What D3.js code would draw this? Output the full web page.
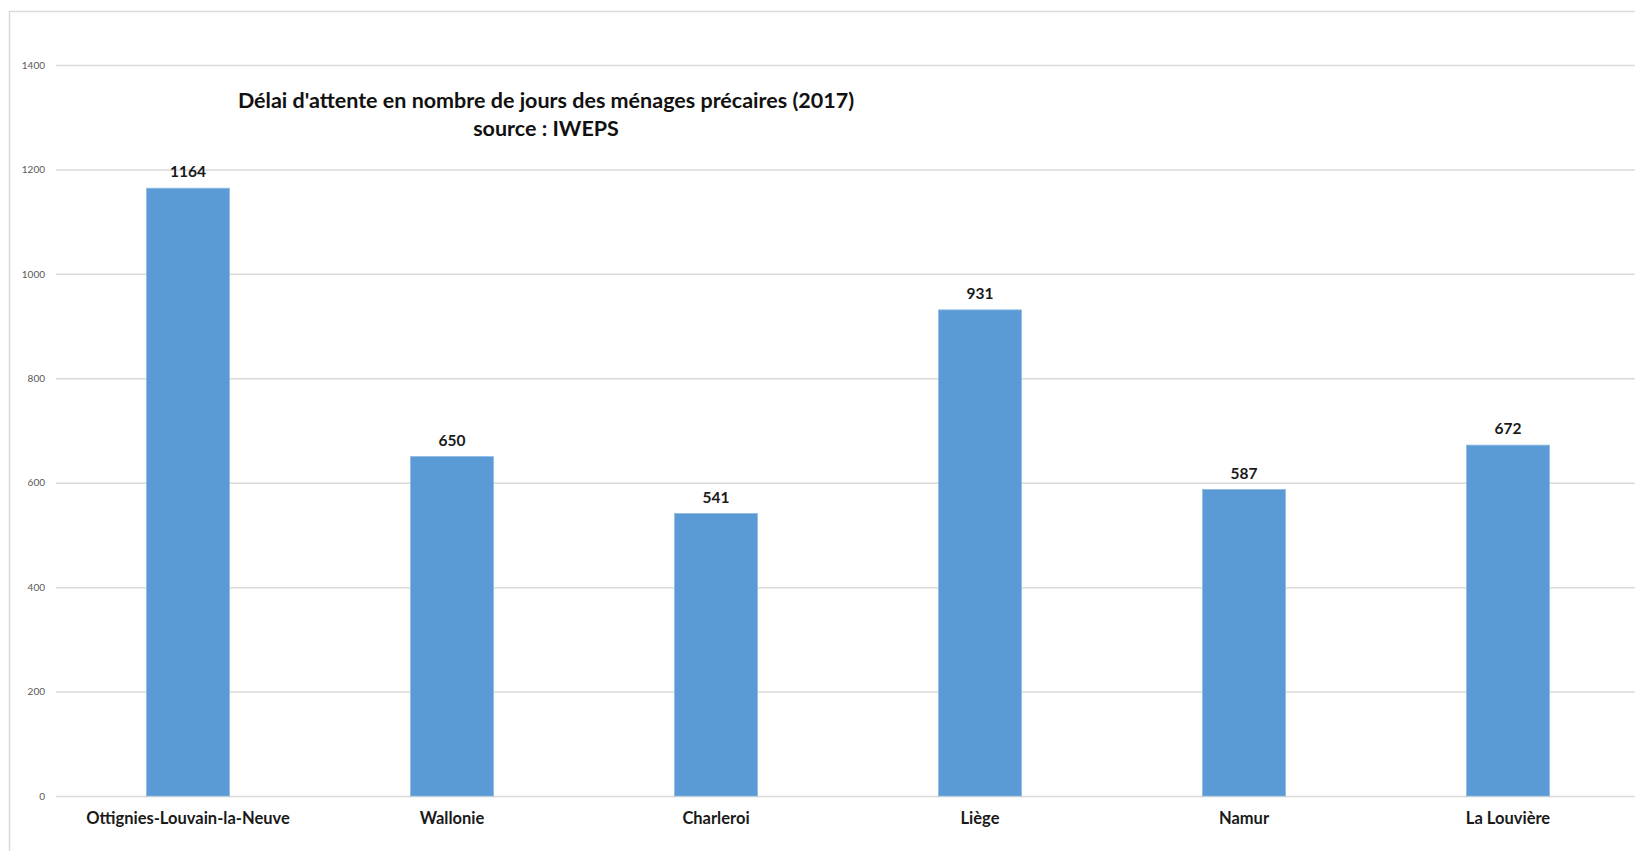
<!DOCTYPE html>
<html>
<head>
<meta charset="utf-8">
<script src="https://cdn.jsdelivr.net/npm/d3@7"></script>
<style>
  html, body { margin: 0; padding: 0; background: #fff; }
  svg { display: block; }
  text { font-family: Lato, "Open Sans", sans-serif; }
</style>
</head>
<body>
<svg id="chart" width="1635" height="851"></svg>
<script>
// Waiting time (days) for precarious households, 2017
const categories = ["Ottignies-Louvain-la-Neuve", "Wallonie", "Charleroi", "Liège", "Namur", "La Louvière"];
const values = [1164, 650, 541, 931, 587, 672];
const yTicks = [0, 200, 400, 600, 800, 1000, 1200, 1400];
const titleLines = ["Délai d'attente en nombre de jours des ménages précaires (2017)", "source : IWEPS"];

const W = 1635, H = 851;
const svg = d3.select("#chart");

// chart-area frame
svg.append("rect")
  .attr("x", 9.5).attr("y", 11.5)
  .attr("width", W + 20).attr("height", H + 20)
  .attr("fill", "#fff").attr("stroke", "#d9d9d9").attr("stroke-width", 1.5);

const plot = { left: 56, right: 1640, top: 65, bottom: 796 };

const x = d3.scaleBand()
  .domain(categories)
  .range([plot.left, plot.right])
  .paddingInner(0.686)
  .paddingOuter(0.343);

const y = d3.scaleLinear()
  .domain([0, 1400])
  .range([plot.bottom, plot.top]);

// horizontal gridlines with tick labels
const yAxis = d3.axisLeft(y)
  .tickValues(yTicks)
  .tickSize(-(W - plot.left))
  .tickPadding(11)
  .tickFormat(d3.format("d"));

const gy = svg.append("g")
  .attr("transform", `translate(${plot.left},0)`)
  .call(yAxis);
gy.select(".domain").remove();
gy.selectAll(".tick line").attr("stroke", "#d9d9d9").attr("stroke-width", 1.5);
gy.selectAll(".tick text")
  .attr("fill", "#595959")
  .style("font-size", "10px")
  .style("font-family", "Lato, sans-serif");

// bars
svg.append("g").selectAll("rect")
  .data(values)
  .join("rect")
  .attr("x", (d, i) => x(categories[i]))
  .attr("width", x.bandwidth())
  .attr("y", d => y(d))
  .attr("height", d => y(0) - y(d))
  .attr("fill", "#5b9bd5")
  .attr("stroke", "#8db8e2")
  .attr("stroke-width", 0.8);

// value labels
svg.append("g").selectAll("text")
  .data(values)
  .join("text")
  .attr("x", (d, i) => x(categories[i]) + x.bandwidth() / 2)
  .attr("y", d => y(d) - 11)
  .attr("text-anchor", "middle")
  .attr("fill", "#1a1a1a")
  .style("font-size", "15.5px")
  .style("font-weight", "bold")
  .text(d => d);

// category axis labels
const xAxis = d3.axisBottom(x).tickSize(0).tickPadding(16);
const gx = svg.append("g")
  .attr("transform", `translate(0,${plot.bottom})`)
  .call(xAxis);
gx.select(".domain").remove();
gx.selectAll(".tick text")
  .attr("fill", "#1a1a1a")
  .style("font-size", "16.5px")
  .style("font-weight", "bold")
  .style("font-family", "Lato, sans-serif");

// title
const title = svg.append("text")
  .attr("x", 546)
  .attr("text-anchor", "middle")
  .attr("fill", "#111")
  .style("font-size", "21.5px")
  .style("font-weight", "bold");
title.selectAll("tspan")
  .data(titleLines)
  .join("tspan")
  .attr("x", 546)
  .attr("y", (d, i) => 108 + i * 28)
  .text(d => d);
</script>
</body>
</html>
